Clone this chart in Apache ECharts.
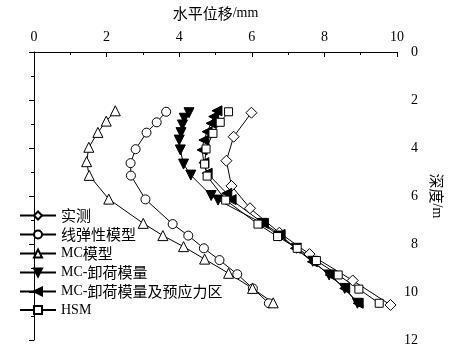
<!DOCTYPE html>
<html><head><meta charset="utf-8">
<script src="https://cdn.jsdelivr.net/npm/echarts@6/dist/echarts.min.js"></script>
<style>html,body{margin:0;padding:0;background:#fff}#c{width:452px;height:349px}</style>
</head><body><div id="c"></div>
<script>
const seriesNames = ['实测','线弹性模型','MC模型','MC-卸荷模量','MC-卸荷模量及预应力区','HSM'];
const xTicks = [0,2,4,6,8,10];
const yTicks = [0,2,4,6,8,10,12];
const xTitle = '水平位移/mm';
const yTitle = '深度/m';

const measDisp  = [5.99,5.50,5.30,5.44,5.95,6.76,7.59,8.78,9.82];
const measDepth = [2.53,3.53,4.53,5.58,6.51,7.53,8.42,9.52,10.54];

const linDisp  = [3.64,3.38,3.10,2.80,2.66,2.67,3.07,3.82,4.25,4.68,5.11,5.60,6.03,6.47];
const linDepth = [2.49,2.93,3.36,4.05,4.63,5.15,6.14,7.17,7.65,8.18,8.67,9.26,9.85,10.47];

const mcDisp  = [2.24,1.99,1.76,1.51,1.45,1.52,2.06,3.01,3.55,4.12,4.70,5.36,6.02,6.59];
const mcDepth = [2.45,2.88,3.35,3.97,4.57,5.14,6.13,7.14,7.65,8.11,8.63,9.22,9.85,10.45];

const mcuDisp  = [4.27,4.14,4.09,4.05,4.00,4.03,4.12,4.32,4.88,5.07,6.29,6.76,7.23,7.68,8.13,8.56,8.91];
const mcuDepth = [2.53,2.76,3.04,3.36,3.67,4.08,4.67,5.13,5.98,6.17,7.14,7.67,8.18,8.72,9.29,9.85,10.47];

const mcpDisp  = [5.04,4.95,4.88,4.77,4.68,4.63,4.68,4.77,5.31,5.43,6.32,6.78,7.20,7.67,8.16,8.56,8.93];
const mcpDepth = [2.45,2.69,2.97,3.32,3.67,4.08,4.61,5.05,5.89,6.15,7.14,7.60,8.18,8.74,9.29,9.85,10.47];

const hsmDisp  = [5.36,5.13,4.93,4.74,4.70,4.77,5.28,6.17,6.71,7.25,7.78,8.38,8.95,9.51];
const hsmDepth = [2.49,2.93,3.39,4.04,4.67,5.17,6.17,7.17,7.69,8.18,8.69,9.29,9.88,10.47];

function pairs(xs, ys){ return xs.map((x,i)=>[x, ys[i]]); }
const LATIN = '"Liberation Serif",serif';
const CJK = '"Noto Sans CJK SC",sans-serif';
const RICH = {
  c:{fontFamily:CJK, fontSize:15, color:'#000'},
  l:{fontFamily:LATIN, fontSize:14, color:'#000'}
};
function richify(s){
  return s.replace(/([\u3400-\u9fff]+)|([^\u3400-\u9fff]+)/g, (m, c, l) => c ? '{c|' + c + '}' : '{l|' + l + '}');
}

function mk(name, xs, ys, symbol, size, fill, rot){
  return {
    name, type:'line', data: pairs(xs, ys), symbol, symbolSize: size, symbolRotate: rot||0,
    showAllSymbol: true,
    lineStyle:{color:'#000', width:1},
    itemStyle:{color: fill, borderColor:'#000', borderWidth:1},
    emphasis:{disabled:true}, animation:false, z: 2
  };
}

const chart = echarts.init(document.getElementById('c'), null, {renderer:'canvas'});
chart.setOption({
  animation:false,
  grid:{left:34, right:49, top:52, bottom:9},
  legend:{
    orient:'vertical', left:14, top:203, itemGap:4, itemWidth:36, itemHeight:10,
    textStyle:{fontFamily:LATIN, fontSize:14, color:'#000', rich: RICH},
    formatter: n => richify(n),
    data: seriesNames
  },
  xAxis:{
    type:'value', position:'top', min:0, max:10, interval:2,
    name: richify(xTitle), nameLocation:'middle', nameGap:31,
    nameTextStyle:{fontFamily:LATIN, fontSize:14, color:'#000', rich: RICH},
    axisLine:{show:true, lineStyle:{color:'#000', width:1}},
    axisTick:{show:true, inside:true, length:5, lineStyle:{color:'#000'}},
    minorTick:{show:true, splitNumber:2, length:3, lineStyle:{color:'#000'}},
    splitLine:{show:false},
    axisLabel:{fontFamily:LATIN, fontSize:14, color:'#000', margin:8,
      formatter: v => xTicks.includes(v) ? String(v) : ''}
  },
  yAxis:{
    type:'value', position:'right', inverse:true, min:0, max:12, interval:2,
    name: richify(yTitle), nameLocation:'middle', nameGap:32, nameRotate:-90,
    nameTextStyle:{fontFamily:LATIN, fontSize:14, color:'#000', rich: RICH},
    axisLine:{show:true, lineStyle:{color:'#000', width:1}},
    axisTick:{show:true, inside:true, length:5, lineStyle:{color:'#000'}},
    minorTick:{show:true, splitNumber:2, length:3, lineStyle:{color:'#000'}},
    splitLine:{show:false},
    axisLabel:{fontFamily:LATIN, fontSize:14, color:'#000', margin:21, align:'right',
      formatter: v => yTicks.includes(v) ? String(v) : ''}
  },
  series:[
    mk(seriesNames[0], measDisp, measDepth, 'diamond', 11, '#fff'),
    mk(seriesNames[1], linDisp, linDepth, 'circle', 9, '#fff'),
    mk(seriesNames[2], mcDisp, mcDepth, 'triangle', 10, '#fff'),
    mk(seriesNames[3], mcuDisp, mcuDepth, 'triangle', 10, '#000', 180),
    mk(seriesNames[4], mcpDisp, mcpDepth, 'triangle', 10, '#000', 90),
    mk(seriesNames[5], hsmDisp, hsmDepth, 'rect', 8, '#fff')
  ]
});
</script></body></html>
